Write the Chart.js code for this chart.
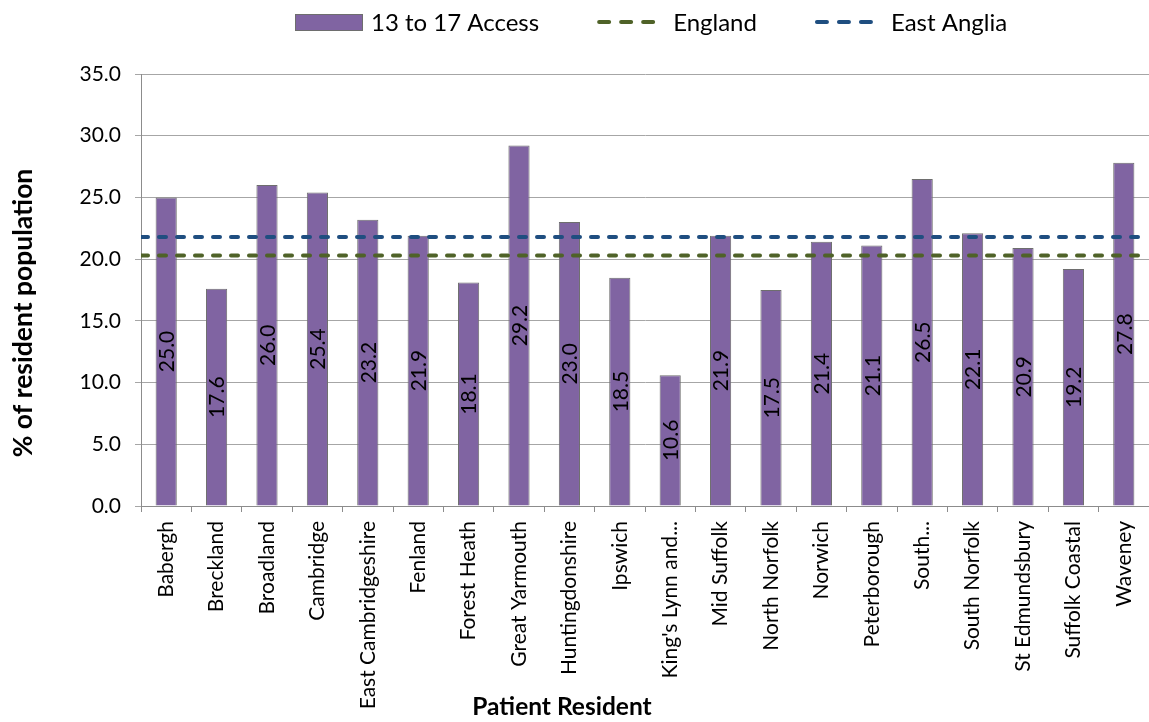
<!DOCTYPE html>
<html>
<head>
<meta charset="utf-8">
<script src="https://cdn.jsdelivr.net/npm/chart.js@4.4.1/dist/chart.umd.min.js"></script>
<style>
  body { margin: 0; background: #fff; }
  #wrap { width: 1149px; height: 722px; }
</style>
</head>
<body>
<div id="wrap"><canvas id="myChart"></canvas></div>
<script>
const districts = ['Babergh', 'Breckland', 'Broadland', 'Cambridge', 'East Cambridgeshire', 'Fenland',
  'Forest Heath', 'Great Yarmouth', 'Huntingdonshire', 'Ipswich', "King's Lynn and...", 'Mid Suffolk',
  'North Norfolk', 'Norwich', 'Peterborough', 'South...', 'South Norfolk', 'St Edmundsbury',
  'Suffolk Coastal', 'Waveney'];
const access13to17 = [25.0, 17.6, 26.0, 25.4, 23.2, 21.9, 18.1, 29.2, 23.0, 18.5, 10.6, 21.9,
  17.5, 21.4, 21.1, 26.5, 22.1, 20.9, 19.2, 27.8];
const englandRate = 20.3;
const eastAngliaRate = 21.8;
const yTicks = [0, 5, 10, 15, 20, 25, 30, 35];

const xTitle = 'Patient Resident';
const yTitle = '% of resident population';

const FONT = 'Lato';
const gridGrey = '#a6a6a6';
const axisGrey = '#8c8c8c';

// flat reference line across the whole plot (0..1 on the hidden x axis)
function refLine(v) {
  return [{x: 0, y: v}, {x: 1, y: v}];
}

// value written sideways in the middle of each bar
const barLabels = {
  id: 'barLabels',
  afterDatasetsDraw(chart) {
    const ctx = chart.ctx;
    const meta = chart.getDatasetMeta(0);
    ctx.save();
    ctx.font = '21px ' + FONT;
    ctx.fillStyle = '#000';
    ctx.textAlign = 'center';
    ctx.textBaseline = 'middle';
    meta.data.forEach((bar, i) => {
      ctx.save();
      ctx.translate(bar.x + 1, (bar.y + bar.base) / 2);
      ctx.rotate(-Math.PI / 2);
      ctx.fillText(access13to17[i].toFixed(1), 0, 0);
      ctx.restore();
    });
    ctx.restore();
  }
};

// one-row legend above the plot
const legendRow = {
  id: 'legendRow',
  afterDraw(chart) {
    const ctx = chart.ctx;
    const y = 22;
    let x = 295;
    ctx.save();
    ctx.font = '24px ' + FONT;
    ctx.textBaseline = 'middle';
    chart.data.datasets.forEach(ds => {
      if (ds.type === 'line') {
        ctx.strokeStyle = ds.borderColor;
        ctx.lineWidth = 4;
        ctx.lineCap = 'round';
        ctx.setLineDash([10, 12]);
        ctx.beginPath();
        ctx.moveTo(x + 2, y);
        ctx.lineTo(x + 68, y);
        ctx.stroke();
        ctx.setLineDash([]);
      } else {
        ctx.fillStyle = ds.backgroundColor;
        ctx.fillRect(x, y - 8, 67, 16);
        ctx.strokeStyle = ds.borderColor;
        ctx.lineWidth = 1;
        ctx.strokeRect(x + 0.5, y - 7.5, 67, 16);
      }
      ctx.fillStyle = '#000';
      ctx.fillText(ds.label, x + 76, y + 1);
      x += 76 + ctx.measureText(ds.label).width + 58;
    });
    ctx.restore();
  }
};

// axis titles sit where the sheet placed them, not centred on the plot
const axisTitles = {
  id: 'axisTitles',
  afterDraw(chart) {
    const {ctx, chartArea} = chart;
    ctx.save();
    ctx.fillStyle = '#000';
    ctx.textAlign = 'center';
    ctx.textBaseline = 'middle';
    ctx.font = 'bold 24.5px ' + FONT;
    ctx.fillText(xTitle, chartArea.left + 421, 707);
    ctx.translate(23, chartArea.top + 239);
    ctx.rotate(-Math.PI / 2);
    ctx.font = 'bold 26.5px ' + FONT;
    ctx.fillText(yTitle, 0, 0);
    ctx.restore();
  }
};

new Chart(document.getElementById('myChart'), {
  type: 'bar',
  data: {
    labels: districts,
    datasets: [
      {
        label: '13 to 17 Access',
        data: access13to17,
        backgroundColor: '#8064a2',
        borderColor: '#6e6e6e',
        borderWidth: 1,
        grouped: false,
        barPercentage: 0.42,
        categoryPercentage: 1,
        order: 2
      },
      {
        type: 'line',
        label: 'England',
        data: refLine(englandRate),
        xAxisID: 'xLine',
        borderColor: '#4f6228',
        borderWidth: 4,
        borderDash: [7, 11],
        borderCapStyle: 'round',
        pointRadius: 0,
        order: 1
      },
      {
        type: 'line',
        label: 'East Anglia',
        data: refLine(eastAngliaRate),
        xAxisID: 'xLine',
        borderColor: '#1f4e80',
        borderWidth: 4,
        borderDash: [7, 11],
        borderCapStyle: 'round',
        pointRadius: 0,
        order: 0
      }
    ]
  },
  options: {
    responsive: true,
    maintainAspectRatio: false,
    animation: false,
    layout: { padding: { top: 74, left: 0, right: 0, bottom: 0 } },
    plugins: {
      legend: { display: false },
      tooltip: { enabled: false }
    },
    scales: {
      x: {
        grid: { display: true, drawOnChartArea: false, color: axisGrey, tickLength: 6, offset: true },
        border: { color: axisGrey },
        ticks: {
          color: '#000',
          font: { family: FONT, size: 21 },
          minRotation: 90,
          maxRotation: 90,
          autoSkip: false,
          padding: 9
        },
        // room for the labels and title underneath; plot runs to the right edge
        afterFit: scale => { scale.height = 216; scale.paddingRight = 0; }
      },
      xLine: {
        type: 'linear',
        display: false,
        offset: false,
        min: 0,
        max: 1
      },
      y: {
        min: 0,
        max: 35,
        afterBuildTicks: axis => { axis.ticks = yTicks.map(v => ({ value: v })); },
        afterFit: scale => { scale.width = 141; },
        grid: { color: gridGrey, tickLength: 6 },
        border: { color: axisGrey },
        ticks: {
          color: '#000',
          font: { family: FONT, size: 21 },
          padding: 14,
          callback: v => v.toFixed(1)
        }
      }
    }
  },
  plugins: [barLabels, legendRow, axisTitles]
});
</script>
</body>
</html>
